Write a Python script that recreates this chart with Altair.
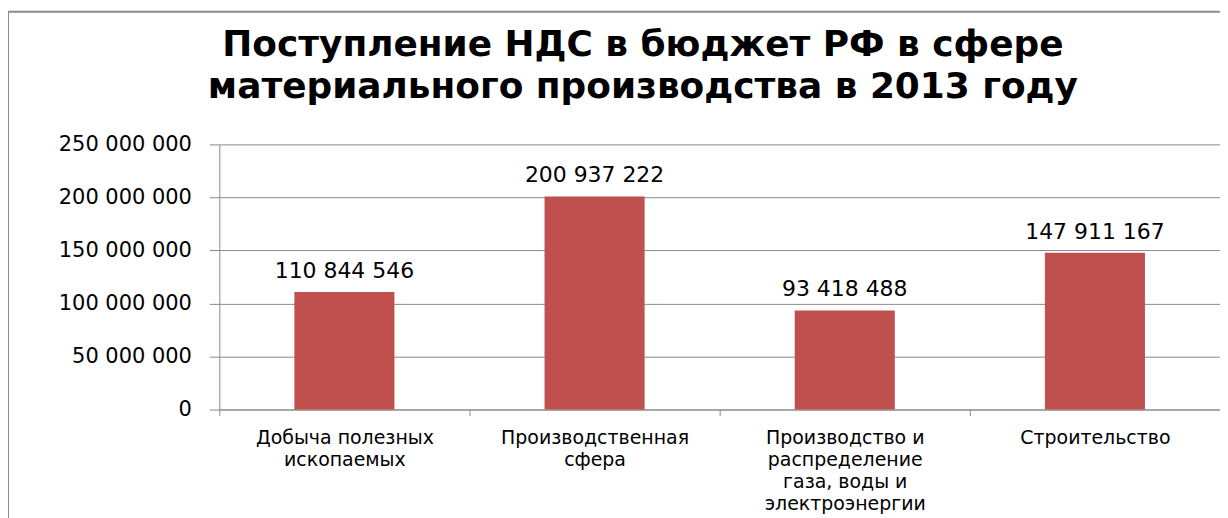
import altair as alt
import pandas as pd

categories = [
    "Добыча полезных\nископаемых",
    "Производственная\nсфера",
    "Производство и\nраспределение\nгаза, воды и\nэлектроэнергии",
    "Строительство",
]
values = [110844546, 200937222, 93418488, 147911167]
y_ticks = [0, 50000000, 100000000, 150000000, 200000000, 250000000]
title_lines = ["Поступление НДС в бюджет РФ в сфере", "материального производства в 2013 году"]

df = pd.DataFrame({"category": categories, "value": values})
one = pd.DataFrame({"k": [0]})

FONT = "DejaVu Sans"
GRID = "#8a8a8a"
BAR = "#C0504D"
fmt = "replace(format(datum.value, ','), regexp(',', 'g'), ' ')"

x = alt.X(
    "category:N", sort=categories, title=None,
    scale=alt.Scale(paddingInner=0, paddingOuter=0),
    axis=alt.Axis(
        labelAngle=0, labelExpr="split(datum.label, '\\n')",
        labelFontSize=19, labelFont=FONT, labelColor="black",
        labelLineHeight=22, labelPadding=13, labelLimit=400,
        tickBand="extent", tickSize=6, tickColor=GRID, domainColor=GRID,
        grid=False,
    ),
)
y = alt.Y(
    "value:Q", title=None,
    scale=alt.Scale(domain=[0, 250000000], nice=False),
    axis=alt.Axis(
        values=y_ticks, labelExpr=fmt, labelFontSize=21, labelFont=FONT,
        labelColor="black", labelPadding=18, tickSize=10, tickColor=GRID,
        domainColor=GRID, gridColor=GRID, grid=True,
    ),
)

border = alt.Chart(one).mark_rect(filled=False, stroke="#8c8c8c", strokeWidth=2).encode(
    x=alt.value(-212), x2=alt.value(1400), y=alt.value(-133), y2=alt.value(700)
)

bars = alt.Chart(df).mark_bar(color=BAR, width=alt.RelativeBandSize(0.4)).encode(x=x, y=y)

labels = alt.Chart(df).transform_calculate(label=fmt).mark_text(
    dy=-14, baseline="alphabetic", fontSize=22, font=FONT, color="black"
).encode(
    x=alt.X("category:N", sort=categories),
    y=alt.Y("value:Q"),
    text="label:N",
)

title = alt.Chart(one).mark_text(
    text=title_lines, fontSize=36, fontWeight="bold", font=FONT, lineHeight=42,
    align="center", baseline="alphabetic", color="black",
).encode(x=alt.value(425), y=alt.value(-89))

chart = alt.layer(border, bars, labels, title).properties(
    width=1004, height=266,
    padding={"left": 212, "top": 136, "right": 0, "bottom": 108},
    autosize="none",
).configure_view(stroke=None)

chart.save("out.html", embed_options={"renderer": "svg", "actions": False})
